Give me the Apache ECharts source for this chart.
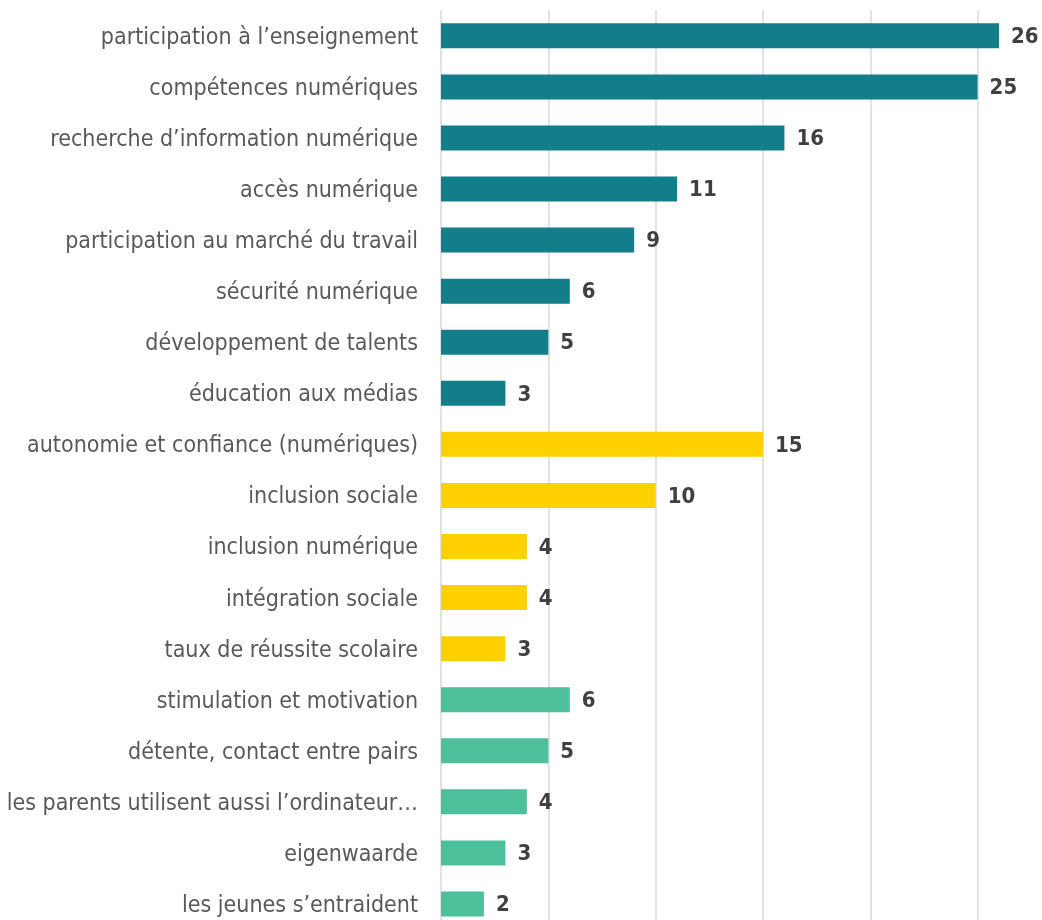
<!DOCTYPE html>
<html>
<head>
<meta charset="utf-8">
<script src="https://cdn.jsdelivr.net/npm/echarts@6/dist/echarts.min.js"></script>
<style>html,body{margin:0;padding:0;background:#fff;overflow:hidden}#c{width:1042px;height:930px}</style>
</head>
<body>
<div id="c"></div>
<script>
const categories = [
  "participation à l’enseignement",
  "compétences numériques",
  "recherche d’information numérique",
  "accès numérique",
  "participation au marché du travail",
  "sécurité numérique",
  "développement de talents",
  "éducation aux médias",
  "autonomie et confiance (numériques)",
  "inclusion sociale",
  "inclusion numérique",
  "intégration sociale",
  "taux de réussite scolaire",
  "stimulation et motivation",
  "détente, contact entre pairs",
  "les parents utilisent aussi l’ordinateur…",
  "eigenwaarde",
  "les jeunes s’entraident"
];
const values = [26, 25, 16, 11, 9, 6, 5, 3, 15, 10, 4, 4, 3, 6, 5, 4, 3, 2];
const groups = [0,0,0,0,0,0,0,0,1,1,1,1,1,2,2,2,2,2];
const groupColors = ["#137d8a", "#ffd100", "#4dbf9b"];

const chart = echarts.init(document.getElementById('c'), null, {renderer: 'canvas'});
chart.setOption({
  animation: false,
  backgroundColor: '#ffffff',
  grid: {left: 441, right: 0, top: 10.3, bottom: 0.5, containLabel: false, outerBoundsMode: 'none'},
  xAxis: {
    type: 'value', min: 0, max: 28, interval: 5,
    axisLabel: {show: false}, axisLine: {show: false}, axisTick: {show: false},
    splitLine: {show: true, showMaxLine: false, lineStyle: {color: '#d9d9d9', width: 1.5}}
  },
  yAxis: {
    type: 'category', data: categories, inverse: true,
    axisLine: {show: false}, axisTick: {show: false},
    axisLabel: {
      margin: 23,
      formatter: '{a|{value}}',
      rich: {a: {color: '#595959', fontSize: 23, fontFamily: 'DejaVu Sans Condensed', padding: [4, 0, 0, 0]}}
    }
  },
  series: [{
    type: 'bar',
    barWidth: 25,
    data: values.map((v, i) => ({value: v, itemStyle: {color: groupColors[groups[i]]}})),
    label: {
      show: true, position: 'right', distance: 12, offset: [0, 1.5],
      color: '#404040', fontSize: 22, fontWeight: 'bold', fontFamily: 'DejaVu Sans Condensed'
    }
  }]
});
</script>
</body>
</html>
